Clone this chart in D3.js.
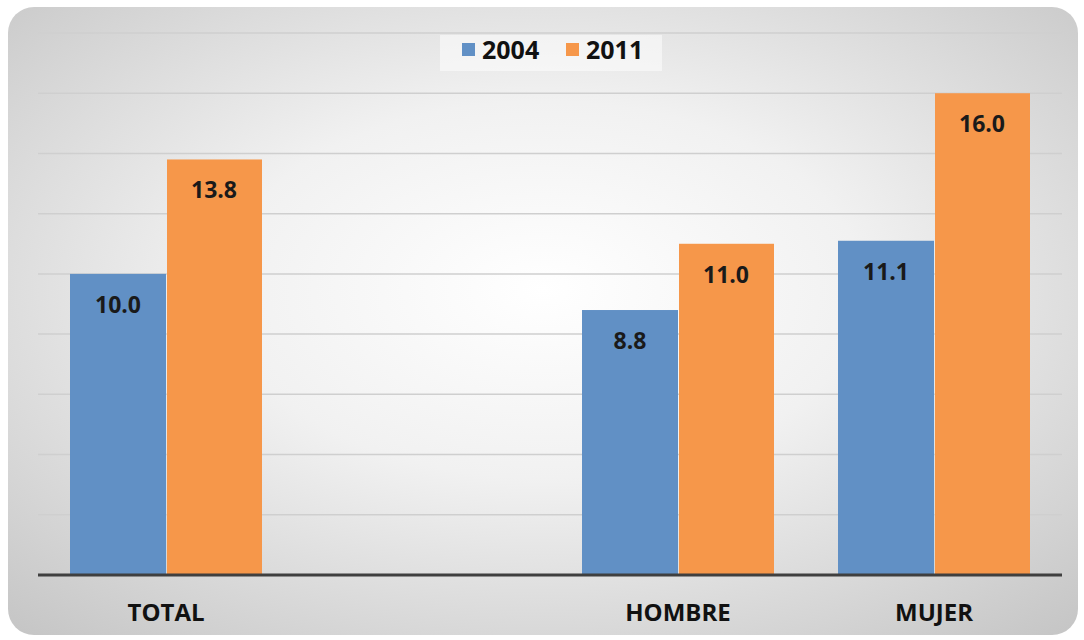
<!DOCTYPE html>
<html>
<head>
<meta charset="utf-8">
<script src="https://cdn.jsdelivr.net/npm/d3@7"></script>
<style>
  body { margin: 0; background: #fff; }
  svg { display: block; font-family: "Open Sans", "DejaVu Sans", sans-serif; }
</style>
</head>
<body>
<svg width="1084" height="640"></svg>
<script>
var categories = ["TOTAL", "", "HOMBRE", "MUJER"];
var series = ["2004", "2011"];
var values2004 = [10.0, null, 8.8, 11.1];
var values2011 = [13.8, null, 11.0, 16.0];
var yTicks = [0, 2, 4, 6, 8, 10, 12, 14, 16, 18];
var colors = ["#6190c5", "#f6974a"];

var svgWidth = 1084;
var svgHeight = 640;
var margin = { left: 38, right: 22, top: 33, bottom: 65 };
var plotW = svgWidth - margin.left - margin.right;
var plotH = svgHeight - margin.top - margin.bottom;

var svg = d3.select("svg");
var defs = svg.append("defs");

var grad = defs.append("radialGradient")
    .attr("id", "bg")
    .attr("cx", "50%").attr("cy", "45%").attr("r", "75%");
grad.append("stop").attr("offset", "0%").attr("stop-color", "#ffffff");
grad.append("stop").attr("offset", "40%").attr("stop-color", "#f1f1f1");
grad.append("stop").attr("offset", "100%").attr("stop-color", "#c4c4c4");

svg.append("rect")
    .attr("x", 8).attr("y", 7)
    .attr("width", 1070).attr("height", 628)
    .attr("rx", 26).attr("ry", 26)
    .attr("fill", "url(#bg)");

var g = svg.append("g")
    .attr("transform", "translate(" + margin.left + "," + margin.top + ")");

var x0 = d3.scaleBand()
    .domain(categories.map(function (d, i) { return i; }))
    .range([0, plotW])
    .paddingInner(0.25)
    .paddingOuter(0.125);

var x1 = d3.scaleBand()
    .domain(series)
    .range([0, x0.bandwidth()])
    .padding(0);

var y = d3.scaleLinear()
    .domain([0, 18])
    .range([plotH, 0]);

// gridlines
g.selectAll(".grid")
    .data(yTicks.slice(1))
    .enter()
    .append("line")
    .attr("x1", 0).attr("x2", plotW)
    .attr("y1", function (d) { return y(d); })
    .attr("y2", function (d) { return y(d); })
    .attr("stroke", "#cfcfcf")
    .attr("stroke-width", 1.5);

var rows = categories.map(function (c, i) {
    return { i: i, name: c, vals: [values2004[i], values2011[i]] };
});

var groups = g.selectAll(".cat")
    .data(rows)
    .enter()
    .append("g")
    .attr("transform", function (d) { return "translate(" + x0(d.i) + ",0)"; });

function barData(d) {
    return series.map(function (s, k) { return { s: s, k: k, v: d.vals[k] }; })
        .filter(function (e) { return e.v != null; });
}

groups.selectAll("rect")
    .data(barData)
    .enter()
    .append("rect")
    .attr("x", function (d) { return x1(d.s) + (d.k === 1 ? 1 : 0); })
    .attr("width", function (d) { return x1.bandwidth() - (d.k === 1 ? 1 : 0); })
    .attr("y", function (d) { return y(d.v); })
    .attr("height", function (d) { return plotH - y(d.v); })
    .attr("fill", function (d) { return colors[d.k]; });

groups.selectAll("text.val")
    .data(barData)
    .enter()
    .append("text")
    .attr("class", "val")
    .attr("x", function (d) { return x1(d.s) + x1.bandwidth() / 2; })
    .attr("y", function (d) { return y(d.v) + 39; })
    .attr("text-anchor", "middle")
    .attr("font-size", 23)
    .attr("font-weight", "bold")
    .attr("fill", "#1a1a1a")
    .text(function (d) { return d3.format(".1f")(d.v); });

// baseline
g.append("line")
    .attr("x1", 0).attr("x2", plotW)
    .attr("y1", plotH).attr("y2", plotH)
    .attr("stroke", "#3f3f3f")
    .attr("stroke-width", 3);

// category labels
g.selectAll(".catlabel")
    .data(rows)
    .enter()
    .append("text")
    .attr("x", function (d) { return x0(d.i) + x0.bandwidth() / 2; })
    .attr("y", plotH + 46)
    .attr("text-anchor", "middle")
    .attr("font-size", 24)
    .attr("font-weight", "bold")
    .attr("fill", "#111")
    .text(function (d) { return d.name; });

// legend
var legend = svg.append("g");
legend.append("rect")
    .attr("x", 440).attr("y", 35)
    .attr("width", 222).attr("height", 36)
    .attr("fill", "#ffffff").attr("opacity", 0.5);

var legX = [462, 566];
series.forEach(function (s, k) {
    legend.append("rect")
        .attr("x", legX[k]).attr("y", 43)
        .attr("width", 13).attr("height", 13)
        .attr("fill", colors[k]);
    legend.append("text")
        .attr("x", legX[k] + 20).attr("y", 59)
        .attr("font-size", 25)
        .attr("font-weight", "bold")
        .attr("fill", "#111")
        .text(s);
});
</script>
</body>
</html>
